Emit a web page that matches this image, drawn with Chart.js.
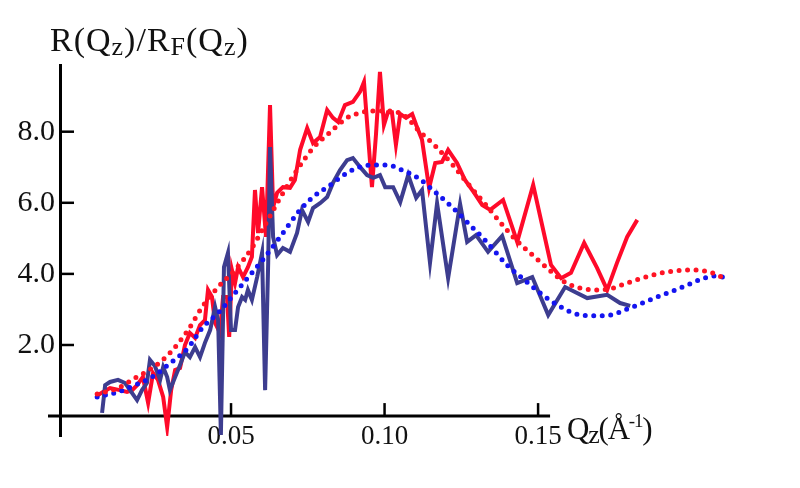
<!DOCTYPE html>
<html>
<head>
<meta charset="utf-8">
<script src="https://cdn.jsdelivr.net/npm/chart.js@4.4.1/dist/chart.umd.min.js"></script>
<style>
  html, body { margin: 0; padding: 0; background: #fff; }
  #wrap { position: relative; width: 800px; height: 488px; overflow: hidden; background: #fff; }
  #c { position: absolute; left: 0; top: 0; }
  .ttl { position: absolute; font-family: 'Liberation Serif', 'Times New Roman', serif; color: #111; line-height: 1; white-space: nowrap; }
  .sub { font-size: 26px; position: relative; top: 4px; }
  .sup { font-size: 19px; position: relative; top: -12px; }
</style>
</head>
<body>
<div id="wrap">
  <canvas id="c" width="800" height="488"></canvas>
  <div class="ttl" id="ytitle" style="left:50px; top:23px; font-size:34px; letter-spacing:1px;">R(Q<span class="sub">z</span>)/R<span class="sub">F</span>(Q<span class="sub">z</span>)</div>
  <div class="ttl" id="xtitle" style="left:567px; top:413px; font-size:31px; letter-spacing:-1.2px;">Q<span class="sub">z</span>(Å<span class="sup">-1</span>)</div>
</div>
<script>
// ---- data ----
const navyQ = [0.0080,0.0090,0.0106,0.0132,0.0155,0.0171,0.0194,0.0210,0.0226,0.0236,
  0.0252,0.0269,0.0279,0.0292,0.0301,0.0318,0.0334,0.0350,0.0366,0.0383,
  0.0399,0.0415,0.0432,0.0448,0.0458,0.0467,0.0477,0.0490,0.0500,0.0513,
  0.0523,0.0536,0.0546,0.0555,0.0568,0.0585,0.0601,0.0611,0.0621,0.0627,
  0.0637,0.0650,0.0669,0.0692,0.0715,0.0731,0.0751,0.0767,0.0790,0.0813,
  0.0832,0.0855,0.0878,0.0897,0.0920,0.0943,0.0963,0.0985,0.1002,0.1028,
  0.1051,0.1077,0.1103,0.1122,0.1148,0.1171,0.1207,0.1246,0.1269,0.1298,
  0.1337,0.1383,0.1432,0.1481,0.1533,0.1588,0.1660,0.1725,0.1767,0.1800];
const navyR = [0.09,0.87,0.96,1.02,0.93,0.73,0.45,0.73,0.93,1.58,
  1.41,1.02,1.38,1.10,0.73,1.10,1.44,1.80,1.66,1.94,
  1.66,2.06,2.42,3.07,2.70,-0.53,4.19,4.59,2.42,2.42,
  3.07,3.35,3.27,3.55,3.27,3.91,4.59,0.73,4.31,7.57,
  5.04,4.53,4.73,4.62,5.15,5.80,5.46,5.85,5.99,6.16,
  6.56,6.92,7.20,7.26,7.01,6.78,6.70,6.78,6.44,6.44,
  6.02,6.78,6.14,6.36,4.31,5.99,3.88,5.97,4.90,5.09,
  4.62,5.07,3.74,3.91,2.84,3.63,3.32,3.41,3.18,3.10];

const redQ = [0.0067,0.0083,0.0106,0.0138,0.0161,0.0178,0.0194,0.0213,0.0230,0.0246,
  0.0262,0.0279,0.0292,0.0305,0.0318,0.0334,0.0350,0.0366,0.0383,0.0399,
  0.0415,0.0425,0.0438,0.0448,0.0464,0.0474,0.0487,0.0494,0.0503,0.0513,
  0.0523,0.0539,0.0555,0.0568,0.0578,0.0588,0.0601,0.0614,0.0627,0.0637,
  0.0650,0.0669,0.0692,0.0708,0.0725,0.0748,0.0767,0.0790,0.0813,0.0832,
  0.0849,0.0871,0.0897,0.0920,0.0933,0.0946,0.0959,0.0972,0.0985,0.0998,
  0.1011,0.1024,0.1037,0.1051,0.1070,0.1090,0.1103,0.1122,0.1145,0.1165,
  0.1187,0.1207,0.1236,0.1262,0.1292,0.1318,0.1344,0.1386,0.1432,0.1484,
  0.1542,0.1575,0.1607,0.1650,0.1692,0.1725,0.1757,0.1790,0.1823];
const redR = [0.59,0.68,0.79,0.73,0.68,0.73,0.87,1.10,0.37,1.21,
  1.02,0.54,-0.31,0.73,1.30,1.35,2.00,2.34,2.20,2.56,
  2.70,3.55,3.35,2.62,2.34,3.35,3.35,2.23,4.11,3.74,
  4.19,3.91,4.19,4.48,6.36,5.15,6.44,5.04,8.75,5.88,
  6.28,6.44,6.42,6.64,7.49,8.10,7.68,7.85,8.61,8.39,
  8.27,8.75,8.84,9.12,9.40,7.91,6.44,7.91,9.68,8.19,
  8.55,8.55,7.63,8.50,8.39,8.50,8.19,7.77,6.42,7.12,
  7.15,7.49,7.12,6.64,6.28,5.94,5.80,6.08,4.90,6.50,
  4.25,3.88,4.03,4.87,4.17,3.55,4.31,5.04,5.52];

const fitRedQ = [0.0064,0.0132,0.0187,0.0243,0.0295,0.0360,0.0406,0.0458,0.0513,0.0568,
  0.0611,0.0660,0.0715,0.0767,0.0823,0.0878,0.0920,0.0963,0.1018,0.1067,
  0.1109,0.1165,0.1220,0.1272,0.1327,0.1376,0.1425,0.1474,0.1529,0.1581,
  0.1637,0.1692,0.1735,0.1783,0.1832,0.1888,0.1940,0.1995,0.2044,0.2077,0.2103];
const fitRedR = [0.62,0.79,1.07,1.35,1.72,2.42,3.07,3.63,4.11,4.73,
  5.38,6.14,6.92,7.54,7.99,8.39,8.53,8.58,8.58,8.44,
  8.05,7.60,7.09,6.53,5.97,5.46,4.98,4.59,4.17,3.80,
  3.60,3.55,3.58,3.72,3.86,4.00,4.08,4.11,4.08,4.00,3.89];

const fitBlueQ = [0.0064,0.0132,0.0187,0.0243,0.0295,0.0360,0.0406,0.0458,0.0513,0.0568,
  0.0611,0.0660,0.0725,0.0767,0.0823,0.0878,0.0920,0.0963,0.1008,0.1057,
  0.1109,0.1165,0.1220,0.1272,0.1327,0.1399,0.1451,0.1507,0.1562,0.1614,
  0.1669,0.1735,0.1783,0.1832,0.1888,0.1940,0.1995,0.2044,0.2077,0.2103];
const fitBlueR = [0.54,0.68,0.87,1.10,1.44,1.92,2.48,2.90,3.46,4.03,
  4.48,5.04,5.80,6.16,6.50,6.84,7.01,7.06,7.06,6.92,
  6.70,6.30,5.88,5.43,4.95,4.25,3.86,3.46,3.13,2.90,
  2.82,2.84,2.99,3.15,3.35,3.52,3.72,3.89,3.94,3.91];

const xTicks = [0.05, 0.10, 0.15];
const yTicks = [2, 4, 6, 8];

// axis geometry (values)
const X_MIN = -0.0057, X_MAX = 0.2125, X_AXIS_END = 0.1539;
const Y_MIN = -0.56, Y_MAX = 9.876;

const pts = (qs, rs) => qs.map((q, i) => ({x: q, y: rs[i]}));

const axesPlugin = {
  id: 'axesExtra',
  beforeDatasetsDraw(chart) {
    const ctx = chart.ctx, xs = chart.scales.x, ys = chart.scales.y;
    const y0 = ys.getPixelForValue(0);
    const x0 = chart.chartArea.left;
    ctx.save();
    ctx.strokeStyle = '#000';
    ctx.lineCap = 'butt';
    ctx.lineWidth = 3;
    ctx.beginPath();
    ctx.moveTo(x0 - 12, y0);
    ctx.lineTo(xs.getPixelForValue(X_AXIS_END), y0);
    ctx.stroke();
    ctx.lineWidth = 2.5;
    xTicks.forEach(v => {
      const px = xs.getPixelForValue(v);
      ctx.beginPath(); ctx.moveTo(px, y0); ctx.lineTo(px, y0 - 13); ctx.stroke();
    });
    yTicks.forEach(v => {
      const py = ys.getPixelForValue(v);
      ctx.beginPath(); ctx.moveTo(x0, py); ctx.lineTo(x0 + 14, py); ctx.stroke();
    });
    ctx.restore();
  }
};

const serif = "'Liberation Serif', 'Times New Roman', serif";

new Chart(document.getElementById('c'), {
  type: 'line',
  data: {
    datasets: [
      { label: 'fit red', data: pts(fitRedQ, fitRedR), borderColor: '#ff1424', borderWidth: 5,
        borderDash: [0, 8.5], borderCapStyle: 'round', pointRadius: 0, cubicInterpolationMode: 'monotone', fill: false, order: 0 },
      { label: 'fit blue', data: pts(fitBlueQ, fitBlueR), borderColor: '#1414f0', borderWidth: 5,
        borderDash: [0, 8.5], borderCapStyle: 'round', pointRadius: 0, cubicInterpolationMode: 'monotone', fill: false, order: 1 },
      { label: 'navy', data: pts(navyQ, navyR), borderColor: '#3d3d8f', borderWidth: 4,
        pointRadius: 0, tension: 0, fill: false, order: 2 },
      { label: 'red', data: pts(redQ, redR), borderColor: '#ff0a2a', borderWidth: 4,
        pointRadius: 0, tension: 0, fill: false, order: 3 }
    ]
  },
  options: {
    responsive: false,
    animation: false,
    devicePixelRatio: 1,
    layout: { padding: { left: 0, right: 70, top: 65, bottom: 52 } },
    plugins: { legend: { display: false }, tooltip: { enabled: false }, title: { display: false } },
    scales: {
      x: {
        type: 'linear', min: X_MIN, max: X_MAX, position: { y: 0 },
        grid: { display: false, drawTicks: false },
        border: { display: false },
        afterBuildTicks: s => { s.ticks = xTicks.map(v => ({value: v})); },
        ticks: { font: {family: serif, size: 27}, color: '#111', padding: 5, maxRotation: 0, autoSkip: false,
                 callback: v => Number(v).toFixed(2) }
      },
      y: {
        type: 'linear', min: Y_MIN, max: Y_MAX, position: 'left',
        afterFit: s => { s.width = 60; },
        grid: { display: false, drawTicks: false },
        border: { display: true, color: '#000', width: 3 },
        afterBuildTicks: s => { s.ticks = yTicks.map(v => ({value: v})); },
        ticks: { font: {family: serif, size: 30}, color: '#111', padding: 5, autoSkip: false,
                 callback: v => Number(v).toFixed(1) }
      }
    }
  },
  plugins: [axesPlugin]
});
</script>
</body>
</html>
